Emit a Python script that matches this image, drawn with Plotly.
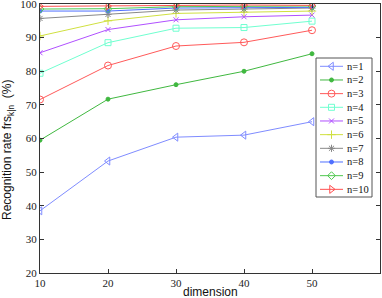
import plotly.graph_objects as go

dims = [10, 20, 30, 40, 50]
names = ["n=1", "n=2", "n=3", "n=4", "n=5", "n=6", "n=7", "n=8", "n=9", "n=10"]
n1 = [38.5, 53.3, 60.4, 61.0, 65.0]
n2 = [59.5, 71.7, 76.0, 80.0, 85.2]
n3 = [71.6, 81.7, 87.5, 88.6, 92.2]
n4 = [79.4, 88.5, 92.8, 93.0, 94.9]
n5 = [85.5, 92.4, 95.3, 96.2, 96.7]
n6 = [90.5, 95.0, 97.2, 97.6, 97.9]
n7 = [95.7, 96.9, 98.2, 98.5, 98.8]
n8 = [97.9, 97.9, 98.8, 99.0, 99.0]
n9 = [98.5, 98.6, 99.2, 99.3, 99.4]
n10 = [99.3, 99.4, 99.7, 99.7, 99.6]
series = [n1, n2, n3, n4, n5, n6, n7, n8, n9, n10]
x_ticks = [10, 20, 30, 40, 50]
y_ticks = [20, 30, 40, 50, 60, 70, 80, 90, 100]

colors = ["#7f8cff", "#40b840", "#ff5a5a", "#70ffd0", "#b050ff",
          "#d0e040", "#888888", "#4f6fff", "#50c850", "#ff5050"]
symbols = ["triangle-left-open", "circle", "circle-open", "square-open", "x-thin-open",
           "cross-thin-open", "asterisk-open", "circle", "diamond-open", "triangle-right-open"]
sizes = [7, 4, 7, 6, 5, 6, 6, 4, 6, 7]

W, H = 382, 298
ML, MR, MT, MB = 40, 2, 4, 25
PW, PH = W - ML - MR, H - MT - MB


def px_to_paper(px, py):
    return (px - ML) / PW, (H - MB - py) / PH


fig = go.Figure()
for name, vals, c, s, sz in zip(names, series, colors, symbols, sizes):
    fig.add_trace(go.Scatter(
        x=dims, y=vals, name=name, mode="lines+markers",
        line=dict(color=c, width=1),
        marker=dict(symbol=s, size=sz, color=c, line=dict(color=c, width=1)),
        showlegend=False,
    ))

# compact legend drawn on a pixel-space overlay axis (legend layout only)
leg_x0, leg_x1, leg_top, leg_bot = 316, 372, 58, 197
row0, row_step = 66.3, 13.67
for i, (name, c, s, sz) in enumerate(zip(names, colors, symbols, sizes)):
    yy = row0 + i * row_step
    fig.add_trace(go.Scatter(
        x=[320, 343], y=[yy, yy], mode="lines", line=dict(color=c, width=1),
        xaxis="x2", yaxis="y2", showlegend=False, hoverinfo="skip"))
    fig.add_trace(go.Scatter(
        x=[331.5], y=[yy], mode="markers",
        marker=dict(symbol=s, size=sz, color=c, line=dict(color=c, width=1)),
        xaxis="x2", yaxis="y2", showlegend=False, hoverinfo="skip"))
    fig.add_annotation(x=345, y=yy, xref="x2", yref="y2", text=name, showarrow=False,
                       xanchor="left", yanchor="middle",
                       font=dict(family="Liberation Serif", size=10.5, color="#111111"))
fig.add_shape(type="rect", xref="x2", yref="y2", x0=leg_x0, x1=leg_x1, y0=leg_top, y1=leg_bot,
              line=dict(color="#555555", width=1), fillcolor="white", layer="below")

# axis titles as paper annotations for exact placement
yx, yy_ = px_to_paper(8, 150)
fig.add_annotation(x=yx, y=yy_, xref="paper", yref="paper", text="Recognition rate frs<sub>k|n</sub>  (%)",
                   textangle=-90, showarrow=False, xanchor="center", yanchor="middle",
                   font=dict(family="Liberation Sans", size=12, color="#111111"))
xx, xy = px_to_paper(210, 292)
fig.add_annotation(x=xx, y=xy, xref="paper", yref="paper", text="dimension",
                   showarrow=False, xanchor="center", yanchor="middle",
                   font=dict(family="Liberation Sans", size=12, color="#111111"))

axis_common = dict(
    showline=True, linecolor="#333333", linewidth=1, mirror="ticks",
    ticks="inside", ticklen=4, tickcolor="#333333", showgrid=False, zeroline=False,
    tickfont=dict(family="Liberation Serif", size=11, color="#222222"),
    automargin=False, ticklabeloverflow="allow",
)
fig.update_layout(
    xaxis=dict(range=[10, 60], tickvals=x_ticks, **axis_common),
    yaxis=dict(range=[20, 100], tickvals=y_ticks, **axis_common),
    xaxis2=dict(range=[ML, W - MR], overlaying="x", visible=False, fixedrange=True),
    yaxis2=dict(range=[H - MB, MT], overlaying="y", visible=False, fixedrange=True),
    width=W, height=H,
    margin=dict(l=ML, r=MR, t=MT, b=MB),
    paper_bgcolor="white", plot_bgcolor="white",
    showlegend=False,
)
fig.write_html("out.html", config={"displayModeBar": False},
               post_script="document.body.style.margin='0';document.body.style.padding='0';")
